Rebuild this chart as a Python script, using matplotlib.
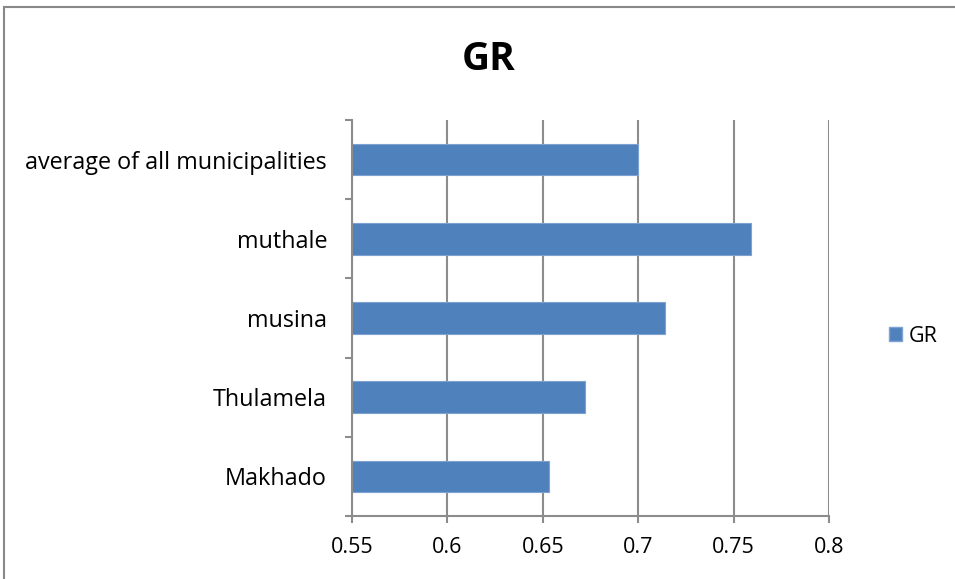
import matplotlib
matplotlib.use("Agg")
import matplotlib.pyplot as plt
from matplotlib.patches import Rectangle, Patch

categories = ["Makhado", "Thulamela", "musina", "muthale", "average of all municipalities"]
values = [0.653, 0.672, 0.714, 0.759, 0.700]
xticks = [0.55, 0.6, 0.65, 0.7, 0.75, 0.8]
xtick_labels = ["0.55", "0.6", "0.65", "0.7", "0.75", "0.8"]
series_name = "GR"
title = "GR"

plt.rcParams['font.family'] = ['Open Sans', 'DejaVu Sans']

W, H = 955, 579
fig = plt.figure(figsize=(W / 100, H / 100), dpi=100)
fig.patch.set_facecolor("white")

# outer chart frame (cropped at right and bottom)
fig.patches.append(Rectangle((4 / W, -0.1), 1.2, 1 - 7 / H + 0.1, transform=fig.transFigure,
                             fill=False, edgecolor="#888888", linewidth=1.5))

left, right, top, bottom = 352, 829, 120, 516
ax = fig.add_axes([left / W, 1 - bottom / H, (right - left) / W, (bottom - top) / H])

grid_c = "#8c8c8c"
ypos = list(range(len(categories)))
ax.barh(ypos, [v - 0.55 for v in values], left=0.55, height=0.4, color="#4F81BD",
        edgecolor="#7DA2D2", linewidth=0.8, zorder=3, label=series_name)

ax.set_xlim(0.55, 0.8)
ax.set_ylim(-0.5, len(categories) - 0.5)
ax.set_xticks(xticks)
ax.set_xticklabels(xtick_labels, fontsize=15.5)
ax.set_yticks(ypos)
ax.set_yticklabels(categories, fontsize=16.8)
ax.tick_params(axis="y", length=0, pad=18)
ax.tick_params(axis="x", length=5, color=grid_c, width=1.5, pad=10)
# category boundary ticks on y axis
ax.set_yticks([i - 0.5 for i in range(len(categories) + 1)], minor=True)
ax.tick_params(axis="y", which="minor", length=5, color=grid_c, width=1.5)

ax.grid(axis="x", color=grid_c, linewidth=1.5, zorder=0)
for s in ["top", "right"]:
    ax.spines[s].set_visible(False)
for s in ["left", "bottom"]:
    ax.spines[s].set_color(grid_c)
    ax.spines[s].set_linewidth(1.5)
    ax.spines[s].set_zorder(4)

fig.text(489 / W, 1 - 59 / H, title, fontsize=28, fontweight="bold", ha="center", va="center")

handle = Patch(facecolor="#4F81BD", edgecolor="#7DA2D2")
fig.legend([handle], [series_name], loc="center left", bbox_to_anchor=(889 / W, 1 - 336 / H),
           frameon=False, fontsize=15.5, handlelength=0.6, handleheight=0.6, handletextpad=0.3,
           borderpad=0, borderaxespad=0)

fig.savefig("out.png", dpi=100, facecolor="white")
